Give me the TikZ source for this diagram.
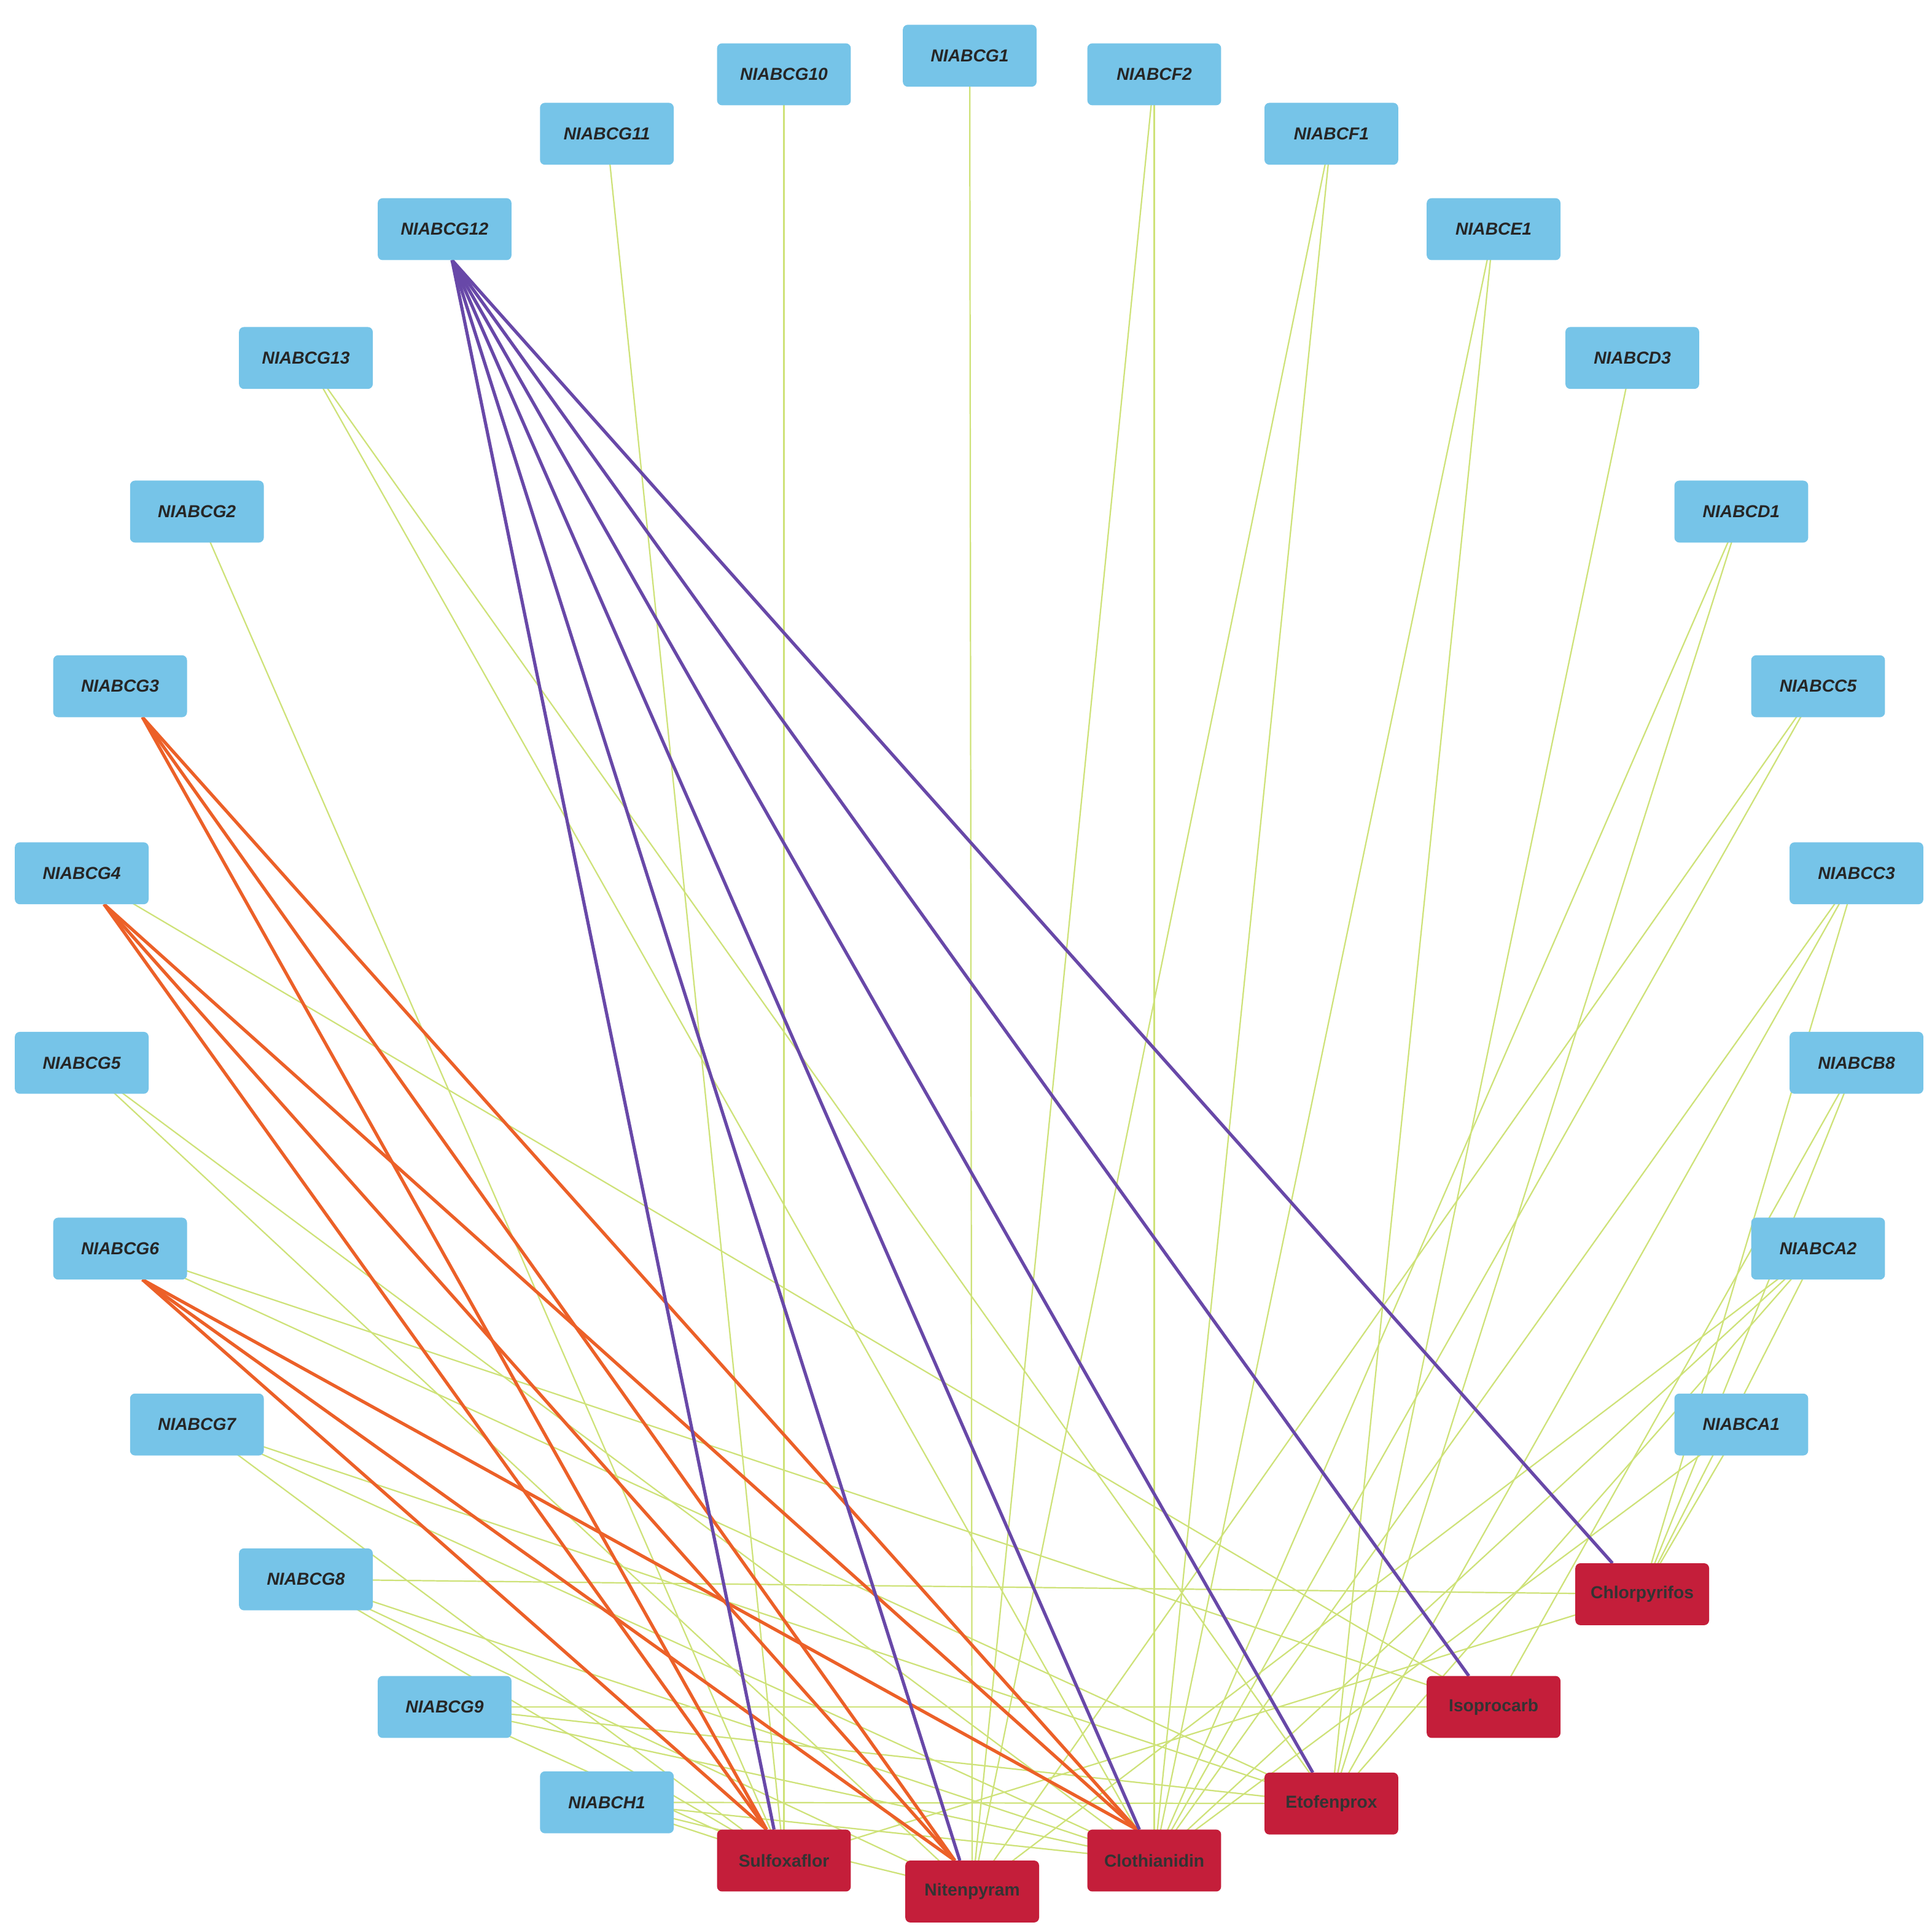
\documentclass[tikz,border=0pt]{standalone}
\usepackage{fontspec}
\setmainfont{Liberation Sans}
\begin{document}
\begin{tikzpicture}[x=1pt,y=-1pt,
 gene/.style={fill=gcol,rounded corners=4pt,minimum width=108pt,minimum height=50pt,inner sep=0pt,font=\fontsize{14}{14}\selectfont\bfseries\itshape,text=black!85},
 drug/.style={fill=dcol,rounded corners=4pt,minimum width=108pt,minimum height=50pt,inner sep=0pt,font=\fontsize{14}{14}\selectfont\bfseries,text=black!80},
 g/.style={draw=lcol,line width=1.1pt},
 p/.style={draw=pcol,line width=2.6pt},
 o/.style={draw=ocol,line width=2.6pt}]
\definecolor{gcol}{RGB}{118,196,232}
\definecolor{dcol}{RGB}{196,30,58}
\definecolor{lcol}{RGB}{206,226,120}
\definecolor{pcol}{RGB}{104,72,168}
\definecolor{ocol}{RGB}{236,96,40}
\useasboundingbox[fill=white] (0,0) rectangle (1560,1554);
\path
 (783,45) coordinate (CG1) (633,60) coordinate (CG10) (932,60) coordinate (CF2)
 (490,108) coordinate (CG11) (1075,108) coordinate (CF1) (359,185) coordinate (CG12)
 (1206,185) coordinate (CE1) (247,289) coordinate (CG13) (1318,289) coordinate (CD3)
 (159,413) coordinate (CG2) (1406,413) coordinate (CD1) (97,554) coordinate (CG3)
 (1468,554) coordinate (CC5) (66,705) coordinate (CG4) (1499,705) coordinate (CC3)
 (66,858) coordinate (CG5) (1499,858) coordinate (CB8) (97,1008) coordinate (CG6)
 (1468,1008) coordinate (CA2) (159,1150) coordinate (CG7) (1406,1150) coordinate (CA1)
 (247,1275) coordinate (CG8) (359,1378) coordinate (CG9) (490,1455) coordinate (CH1)
 (1326,1287) coordinate (Chl) (1206,1378) coordinate (Iso) (1075,1456) coordinate (Eto)
 (633,1502) coordinate (Sul) (932,1502) coordinate (Clo) (785,1527) coordinate (Nit);
% green edges
\foreach \a/\b in {CG1/Nit,CG10/Sul,CF2/Clo,CF2/Nit,CG11/Sul,CF1/Nit,CF1/Clo,CE1/Clo,CE1/Eto,CD3/Eto,
 CD1/Clo,CD1/Eto,CC5/Nit,CC5/Clo,CC3/Clo,CC3/Eto,CC3/Chl,CB8/Chl,CB8/Iso,CA2/Nit,CA2/Clo,CA2/Eto,CA2/Chl,
 CA1/Clo,CA1/Chl,CG13/Clo,CG13/Eto,CG2/Sul,CG4/Iso,CG5/Clo,CG5/Nit,CG6/Eto,CG6/Iso,CG7/Clo,CG7/Eto,CG7/Sul,
 CG8/Chl,CG8/Sul,CG8/Nit,CG8/Clo,CG9/Sul,CG9/Clo,CG9/Eto,CG9/Iso,CH1/Sul,CH1/Nit,CH1/Clo,CH1/Eto,Chl/Sul}
 \draw[g] (\a) -- (\b);
% orange
\foreach \a in {CG3,CG4,CG6}{\foreach \b in {Sul,Nit,Clo}{\draw[o] ([xshift=18pt,yshift=-25pt]\a) -- ([xshift=-14pt,yshift=25pt]\b);}}
% purple
\foreach \b/\s in {Sul/-8,Nit/-10,Clo/-12,Eto/-15,Iso/-20,Chl/-24}{\draw[p] ([xshift=6pt,yshift=-25pt]CG12) -- ([xshift=\s pt,yshift=25pt]\b);}
% nodes
\foreach \n/\t in {CG1/NIABCG1,CG10/NIABCG10,CF2/NIABCF2,CG11/NIABCG11,CF1/NIABCF1,CG12/NIABCG12,CE1/NIABCE1,
 CG13/NIABCG13,CD3/NIABCD3,CG2/NIABCG2,CD1/NIABCD1,CG3/NIABCG3,CC5/NIABCC5,CG4/NIABCG4,CC3/NIABCC3,CG5/NIABCG5,
 CB8/NIABCB8,CG6/NIABCG6,CA2/NIABCA2,CG7/NIABCG7,CA1/NIABCA1,CG8/NIABCG8,CG9/NIABCG9,CH1/NIABCH1}
 \node[gene] (n\n) at (\n) {\t};
\foreach \n/\t in {Chl/Chlorpyrifos,Iso/Isoprocarb,Eto/Etofenprox,Sul/Sulfoxaflor,Clo/Clothianidin,Nit/Nitenpyram}
 \node[drug] (n\n) at (\n) {\t};
\end{tikzpicture}
\end{document}
